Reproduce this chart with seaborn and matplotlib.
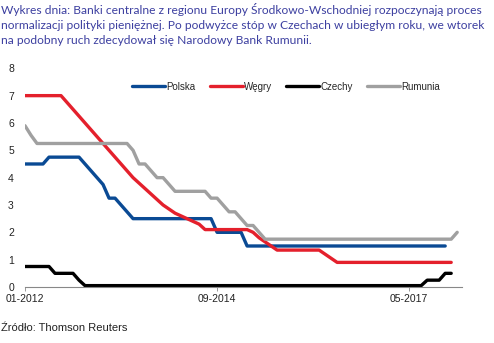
import numpy as np
import pandas as pd
import matplotlib.pyplot as plt
import seaborn as sns

# stopy procentowe banków centralnych, dane miesięczne od 01-2012
polska = [4.5] * 4 + [4.75] * 6 + [4.5, 4.25, 4.0, 3.75, 3.25, 3.25, 3.0, 2.75] \
    + [2.5] * 14 + [2.0] * 5 + [1.5] * 34
wegry = [7.0] * 7 + [6.75, 6.5, 6.25, 6.0, 5.75, 5.5, 5.25, 5.0, 4.75, 4.5, 4.25,
                     4.0, 3.8, 3.6, 3.4, 3.2, 3.0, 2.85, 2.7, 2.6, 2.5, 2.4, 2.3] \
    + [2.1] * 8 + [2.0, 1.8, 1.65, 1.5] + [1.35] * 8 + [1.2, 1.05] + [0.9] * 20
czechy = [0.75] * 5 + [0.5] * 4 + [0.25] + [0.05] * 57 + [0.25] * 3 + [0.5] * 2
rumunia = [5.9, 5.55] + [5.25] * 16 + [5.0, 4.5, 4.5, 4.25, 4.0, 4.0, 3.75] \
    + [3.5] * 6 + [3.25, 3.25, 3.0, 2.75, 2.75, 2.5, 2.25, 2.25, 2.0] + [1.75] * 32 + [2.0]

series = {'Polska': polska, 'Węgry': wegry, 'Czechy': czechy, 'Rumunia': rumunia}
colors = {'Polska': '#0a4a94', 'Węgry': '#e4202c', 'Czechy': '#000000', 'Rumunia': '#a0a0a0'}
tick_pos = [0, 32, 64]
tick_labels = ['01-2012', '09-2014', '05-2017']

rows = []
for name, vals in series.items():
    for i, v in enumerate(vals):
        rows.append({'miesiac': i, 'stopa': v, 'kraj': name})
df = pd.DataFrame(rows)

sns.set_style('white')
plt.rcParams['font.family'] = ['Liberation Sans', 'DejaVu Sans']

fig = plt.figure(figsize=(4.94, 3.43), dpi=100)
ax = fig.add_axes([25 / 494, 56 / 343, 437 / 494, 218.7 / 343])

sns.lineplot(data=df, x='miesiac', y='stopa', hue='kraj', palette=colors,
             hue_order=list(series.keys()), linewidth=2.4, ax=ax, legend=False)

ax.set_xlim(0, 72.8)
ax.set_ylim(0, 8)
ax.set_yticks(range(0, 9))
ax.set_xticks(tick_pos)
ax.set_xticklabels(tick_labels)
ax.set_xlabel('')
ax.set_ylabel('')
for s in ['top', 'right', 'left']:
    ax.spines[s].set_visible(False)
ax.spines['bottom'].set_color('#888888')
ax.spines['bottom'].set_linewidth(0.8)
ax.tick_params(axis='y', length=0, pad=8, labelsize=7.5, labelcolor='#222222')
ax.tick_params(axis='x', length=3, width=0.6, color='#888888', direction='out',
               pad=2, labelsize=7.5, labelcolor='#222222', bottom=True)

handles = [plt.Line2D([], [], color=colors[k], linewidth=2.4) for k in series]
ax.legend(handles, list(series.keys()), loc='center', bbox_to_anchor=(0.597, 0.916),
          ncol=4, frameon=False, fontsize=7, handlelength=3.4, handletextpad=0.1,
          columnspacing=1.5)

title = ('Wykres dnia: Banki centralne z regionu Europy Środkowo-Wschodniej rozpoczynają proces\n'
         'normalizacji polityki pieniężnej. Po podwyżce stóp w Czechach w ubiegłym roku, we wtorek\n'
         'na podobny ruch zdecydował się Narodowy Bank Rumunii.')
fig.text(0.002, 0.992, title, ha='left', va='top', fontsize=8.65, color='#3c3fa0',
         family=['Lato', 'DejaVu Sans'], linespacing=1.46)
fig.text(0.002, 0.045, 'Źródło: Thomson Reuters', ha='left', va='center',
         fontsize=8, color='#222222')

fig.savefig('out.png', dpi=100)
